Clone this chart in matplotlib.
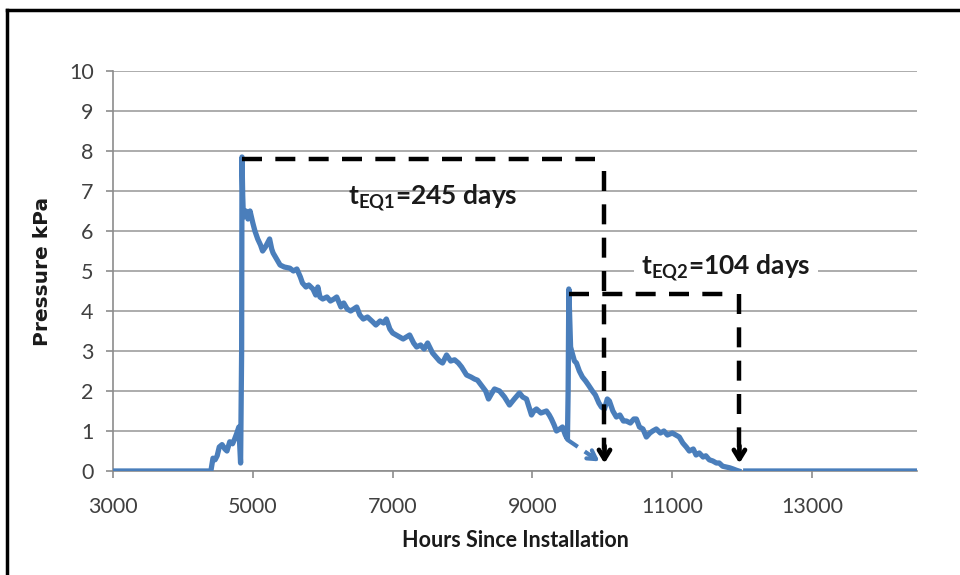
import numpy as np
import matplotlib.pyplot as plt
from matplotlib.lines import Line2D

plt.rcParams['font.family'] = ['Lato', 'DejaVu Sans']
plt.rcParams['mathtext.fontset'] = 'custom'
plt.rcParams['mathtext.rm'] = 'Lato'
plt.rcParams['mathtext.bf'] = 'Lato:bold'

# pressure record (hours since installation, kPa)
hours = [3000, 4400, 4430, 4460, 4490, 4520, 4560, 4600, 4630, 4670, 4710, 4740, 4770, 4800,
         4825, 4840, 4845, 4855, 4865, 4900, 4930, 4960, 5000, 5030, 5070, 5110, 5140, 5180,
         5240, 5270, 5290, 5340, 5390, 5450, 5530, 5580, 5630, 5680, 5710, 5760, 5800, 5860,
         5900, 5930, 5960, 6000, 6060, 6110, 6160, 6200, 6260, 6300, 6350, 6400, 6486, 6530,
         6580, 6640, 6714, 6760, 6820, 6870, 6910, 6960, 7000, 7050, 7100, 7150, 7243, 7300,
         7343, 7400, 7450, 7500, 7571, 7620, 7670, 7714, 7771, 7830, 7886, 7940, 7986, 8057,
         8120, 8170, 8214, 8286, 8330, 8371, 8420, 8457, 8529, 8600, 8671, 8740, 8814, 8860,
         8914, 8950, 8986, 9020, 9057, 9120, 9200, 9240, 9271, 9310, 9343, 9390, 9429, 9470,
         9500, 9510, 9520, 9530, 9545, 9560, 9600, 9629, 9670, 9714, 9760, 9800, 9857, 9900,
         9950, 9986, 10030, 10070, 10100, 10150, 10200, 10250, 10300, 10343, 10400, 10450,
         10486, 10530, 10580, 10629, 10680, 10720, 10771, 10830, 10880, 10930, 11000, 11050,
         11100, 11150, 11200, 11243, 11300, 11340, 11386, 11440, 11480, 11529, 11580, 11630,
         11671, 11720, 11771, 11820, 11870, 11914, 11950, 12000, 12050, 14500]
pressure = [0, 0, 0.32, 0.28, 0.38, 0.6, 0.66, 0.55, 0.5, 0.73, 0.68, 0.8, 0.94, 1.1,
            0.2, 3.0, 7.85, 6.9, 6.35, 6.5, 6.3, 6.5, 6.2, 6.0, 5.8, 5.65, 5.5, 5.6,
            5.8, 5.55, 5.45, 5.3, 5.15, 5.1, 5.07, 5.0, 5.05, 4.85, 4.7, 4.6, 4.65, 4.55,
            4.4, 4.6, 4.35, 4.3, 4.35, 4.25, 4.3, 4.35, 4.1, 4.2, 4.05, 4.0, 4.1, 3.9,
            3.8, 3.85, 3.73, 3.65, 3.75, 3.7, 3.8, 3.55, 3.45, 3.4, 3.35, 3.3, 3.4, 3.2,
            3.1, 3.15, 3.05, 3.2, 2.95, 2.85, 2.75, 2.7, 2.9, 2.75, 2.78, 2.7, 2.6, 2.4,
            2.35, 2.3, 2.27, 2.1, 2.0, 1.8, 1.95, 2.05, 2.0, 1.85, 1.65, 1.8, 1.95, 1.85,
            1.8, 1.6, 1.4, 1.5, 1.55, 1.45, 1.5, 1.4, 1.3, 1.15, 1.0, 1.05, 1.1, 0.9,
            0.8, 2.0, 4.55, 4.0, 3.1, 3.0, 2.75, 2.7, 2.5, 2.35, 2.25, 2.15, 2.0, 1.9,
            1.7, 1.6, 1.55, 1.8, 1.75, 1.5, 1.35, 1.4, 1.25, 1.25, 1.2, 1.3,
            1.3, 1.1, 1.05, 0.85, 0.95, 1.0, 1.05, 0.95, 1.0, 0.9, 0.95, 0.9,
            0.85, 0.7, 0.6, 0.5, 0.55, 0.4, 0.45, 0.35, 0.38, 0.28, 0.25, 0.2,
            0.2, 0.12, 0.1, 0.08, 0.05, 0.02, 0.0, np.nan, 0, 0]

# annotation values
peak1, peak2 = 7.8, 4.42
t_start1, t_end1 = 4845, 10030
t_start2, t_end2 = 9525, 11960
label1 = r'$\mathbf{t}_{\mathbf{EQ1}}$=245 days'
label2 = r'$\mathbf{t}_{\mathbf{EQ2}}$=104 days'
extrap_x = [9500, 9990]
extrap_y = [0.78, 0.2]

blue = '#4a7ebb'
grid = '#a6a6a6'
txt = '#404040'

fig = plt.figure(figsize=(9.6, 5.75), dpi=100)
ax = fig.add_axes([113/960, 1 - 471/575, (917-113)/960, (471-71)/575])

ax.plot(hours, pressure, color=blue, lw=3.8, solid_joinstyle='round', zorder=3)

ax.set_xlim(3000, 14500)
ax.set_ylim(0, 10)
ax.set_xticks(range(3000, 14001, 2000))
ax.set_yticks(range(0, 11))
ax.yaxis.grid(True, color=grid, lw=1.3)
ax.set_axisbelow(True)
for s in ['top', 'right']:
    ax.spines[s].set_visible(False)
for s in ['left', 'bottom']:
    ax.spines[s].set_color('#8c8c8c')
    ax.spines[s].set_linewidth(1.2)
ax.tick_params(axis='x', direction='out', length=5, width=1.2, color='#8c8c8c',
               labelsize=15.5, labelcolor=txt, pad=14)
ax.tick_params(axis='y', direction='out', length=5, width=1.2, color='#8c8c8c',
               labelsize=15.5, labelcolor=txt, pad=9)

ax.set_xlabel('Hours Since Installation', fontsize=15.5, fontweight='bold', color='#1a1a1a',
              labelpad=9)
ax.set_ylabel('Pressure kPa', fontsize=14.5, fontweight='bold', family='DejaVu Sans',
              color='#1a1a1a', labelpad=12)

dash = dict(color='black', lw=3.2, dashes=(4.5, 3.0), zorder=4)
head = dict(arrowstyle='->,head_length=0.65,head_width=0.4', color='black', lw=3.4)
# first equilibration time
ax.plot([t_start1, t_end1 - 130], [peak1, peak1], **dash)
ax.plot([t_end1, t_end1], [peak1 - 0.3, 0.55], **dash)
ax.annotate('', xy=(t_end1, 0.12), xytext=(t_end1, 0.7), arrowprops=head, zorder=5)
# second equilibration time
ax.plot([t_start2, t_end2 - 100], [peak2, peak2], **dash)
ax.plot([t_end2, t_end2], [peak2, 0.55], **dash)
ax.annotate('', xy=(t_end2, 0.12), xytext=(t_end2, 0.7), arrowprops=head, zorder=5)
# extrapolated decay
ax.plot([extrap_x[0], extrap_x[1] - 60], [extrap_y[0], extrap_y[1] + 0.07],
        color=blue, lw=3.0, dashes=(3, 2), zorder=4)
ax.annotate('', xy=(extrap_x[1], extrap_y[1]), xytext=(extrap_x[1] - 200, extrap_y[1] + 0.24),
            arrowprops=dict(arrowstyle='->,head_length=0.6,head_width=0.35', color=blue,
                            lw=3.0), zorder=4)

ax.text(7580, 6.83, label1, fontsize=19, fontweight='bold', ha='center', va='center',
        color='#1a1a1a', zorder=6)
ax.text(11770, 5.08, label2, fontsize=19, fontweight='bold', ha='center', va='center',
        color='#1a1a1a', zorder=6,
        bbox=dict(facecolor='white', edgecolor='none', pad=5))

# frame around the picture
fig.add_artist(Line2D([7/960, 7/960], [0, 1 - 10/575], color='black', lw=2.5))
fig.add_artist(Line2D([7/960, 1], [1 - 10/575, 1 - 10/575], color='black', lw=2.5))

fig.savefig('out.png', dpi=100)
